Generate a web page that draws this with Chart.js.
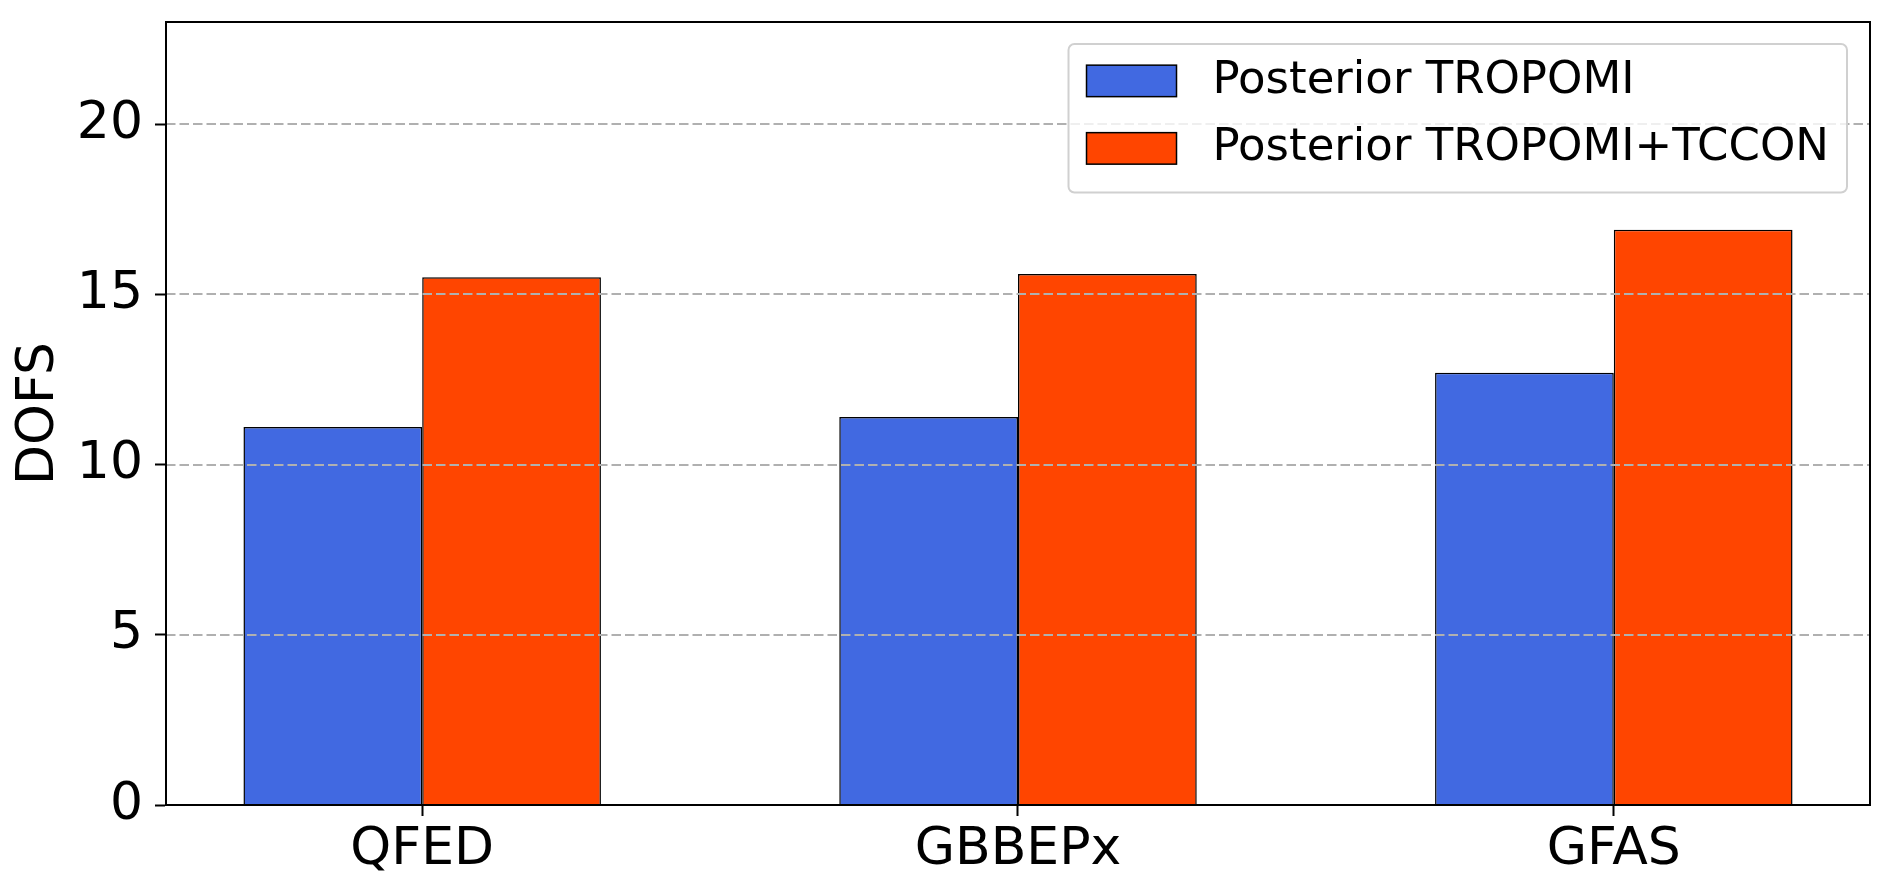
<!DOCTYPE html>
<html>
<head>
<meta charset="utf-8">
<script src="https://cdn.jsdelivr.net/npm/chart.js@4.4.1/dist/chart.umd.min.js"></script>
<style>
    html, body { margin: 0; padding: 0; background: #fff; }
    #wrap { width: 1892px; height: 894px; }
</style>
</head>
<body>
<div id="wrap"><canvas id="dofsChart" width="1892" height="894"></canvas></div>
<script>
// Data
const categories = ['QFED', 'GBBEPx', 'GFAS'];
const seriesLabels = ['Posterior TROPOMI', 'Posterior TROPOMI+TCCON'];
const posteriorTropomi = [11.1, 11.4, 12.7];
const posteriorTropomiTccon = [15.5, 15.6, 16.9];
const yTicks = [0, 5, 10, 15, 20];

const FONT = 'DejaVu Sans';

/**
 * Draw grid (on top of bars), axes frame and the boxed legend
 */
const overlayPlugin = {
    id: 'overlay',
    afterDatasetsDraw(chart) {
        const { ctx, chartArea: a, scales } = chart;
        ctx.save();

        // dashed horizontal grid
        ctx.strokeStyle = '#b0b0b0';
        ctx.lineWidth = 2;
        ctx.setLineDash([9.5, 4]);
        scales.y.ticks.forEach(t => {
            if (t.value === 0) return;
            const y = Math.round(scales.y.getPixelForValue(t.value));
            ctx.beginPath();
            ctx.moveTo(a.left, y);
            ctx.lineTo(a.right, y);
            ctx.stroke();
        });
        ctx.setLineDash([]);

        // frame
        ctx.strokeStyle = '#000';
        ctx.lineWidth = 2;
        ctx.strokeRect(a.left, a.top, a.right - a.left, a.bottom - a.top);

        // legend box, upper right
        const fs = 45;
        ctx.font = `${fs}px "${FONT}"`;
        const sets = chart.data.datasets;
        const textW = Math.max(...sets.map(d => ctx.measureText(d.label).width));
        const boxW = 0.4 * fs + 2 * fs + 0.8 * fs + textW + 0.4 * fs;
        const boxH = 3.3 * fs;
        const boxX = a.right - 23 - boxW;
        const boxY = a.top + 22;

        ctx.beginPath();
        ctx.roundRect(boxX, boxY, boxW, boxH, 6);
        ctx.fillStyle = 'rgba(255,255,255,0.8)';
        ctx.fill();
        ctx.strokeStyle = '#d0d0d0';
        ctx.lineWidth = 2;
        ctx.stroke();

        sets.forEach((d, i) => {
            const cy = boxY + 0.82 * fs + i * 1.5 * fs;
            const px = boxX + 0.4 * fs;
            const ph = 0.7 * fs;
            ctx.fillStyle = d.backgroundColor;
            ctx.fillRect(px, cy - ph / 2, 2 * fs, ph);
            ctx.strokeStyle = '#000';
            ctx.lineWidth = 1.5;
            ctx.strokeRect(px, cy - ph / 2, 2 * fs, ph);

            ctx.fillStyle = '#000';
            ctx.textAlign = 'left';
            ctx.textBaseline = 'middle';
            ctx.fillText(d.label, px + 2.8 * fs, cy);
        });

        ctx.restore();
    }
};

function renderChart() {
    const ctx = document.getElementById('dofsChart').getContext('2d');
    const tickFont = { family: FONT, size: 52 };

    new Chart(ctx, {
        type: 'bar',
        data: {
            datasets: [
                {
                    label: seriesLabels[0],
                    data: posteriorTropomi.map((v, i) => ({ x: i, y: v })),
                    backgroundColor: '#4169e1',
                    borderColor: '#000',
                    borderWidth: 1.5,
                    borderSkipped: 'start'
                },
                {
                    label: seriesLabels[1],
                    data: posteriorTropomiTccon.map((v, i) => ({ x: i, y: v })),
                    backgroundColor: '#ff4500',
                    borderColor: '#000',
                    borderWidth: 1.5,
                    borderSkipped: 'start'
                }
            ]
        },
        options: {
            responsive: false,
            devicePixelRatio: 1,
            animation: false,
            events: [],
            categoryPercentage: 0.6,
            barPercentage: 1.0,
            layout: { padding: { top: 22, right: 22, bottom: 0, left: 0 } },
            plugins: {
                legend: { display: false },
                tooltip: { enabled: false }
            },
            scales: {
                x: {
                    type: 'linear',
                    min: -0.43,
                    max: 2.43,
                    offset: false,
                    afterBuildTicks: axis => {
                        axis.ticks = categories.map((c, i) => ({ value: i }));
                    },
                    afterFit: axis => {
                        axis.height = 89;
                        axis.paddingLeft = 0;
                        axis.paddingRight = 0;
                    },
                    border: { display: true, color: '#000', width: 2 },
                    grid: {
                        offset: false,
                        color: 'rgba(0,0,0,0)',
                        drawTicks: true,
                        tickColor: '#000',
                        tickLength: 11,
                        tickWidth: 2
                    },
                    ticks: {
                        color: '#000',
                        font: tickFont,
                        padding: 3,
                        maxRotation: 0,
                        autoSkip: false,
                        callback: v => categories[v]
                    }
                },
                y: {
                    min: 0,
                    max: 23,
                    afterBuildTicks: axis => {
                        axis.ticks = yTicks.map(v => ({ value: v }));
                    },
                    afterFit: axis => {
                        axis.width = 166;
                        axis.paddingTop = 0;
                        axis.paddingBottom = 0;
                    },
                    border: { display: true, color: '#000', width: 2 },
                    grid: {
                        color: 'rgba(0,0,0,0)',
                        drawTicks: true,
                        tickColor: '#000',
                        tickLength: 11,
                        tickWidth: 2
                    },
                    ticks: { color: '#000', font: tickFont, padding: 12 },
                    title: {
                        display: true,
                        text: 'DOFS',
                        color: '#000',
                        font: tickFont,
                        padding: { top: 8, bottom: 0 }
                    }
                }
            }
        },
        plugins: [overlayPlugin]
    });
}

renderChart();
</script>
</body>
</html>
